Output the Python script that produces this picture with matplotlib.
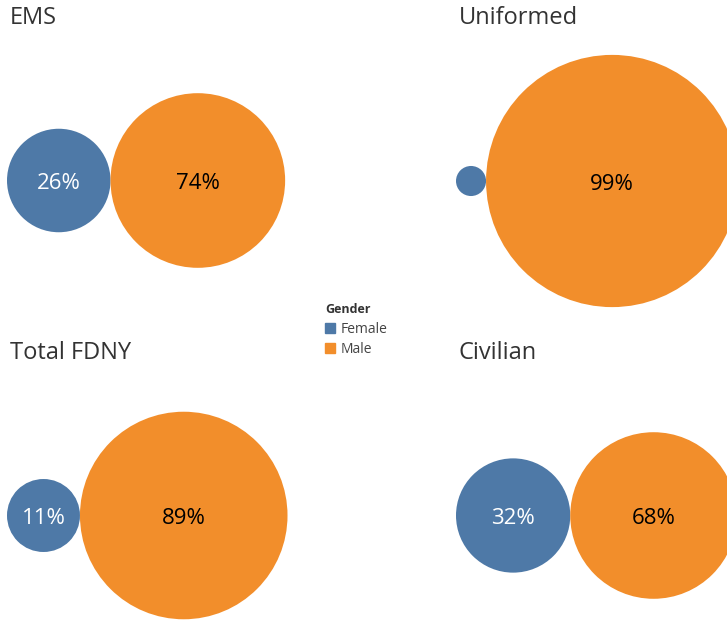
import numpy as np
import matplotlib
matplotlib.use('Agg')
import matplotlib.pyplot as plt
from matplotlib.patches import Circle, Patch

# share of each gender per group (percent)
groups = ['EMS', 'Uniformed', 'Total FDNY', 'Civilian']
female = [26, 1.4, 11, 32]
male = [74, 98.6, 89, 68]
show_female_label = [True, False, True, True]

BLUE = '#4E79A7'
ORANGE = '#F28E2B'
FONT = 'Open Sans'

# layout of the 2x2 grid, in pixels (left edge of bubbles, centre line, title pos)
panel_left = [7, 456, 7, 456]
panel_mid = [180.5, 181, 515.5, 515.5]
title_pos = [(10, 24), (459, 24), (10, 359), (459, 359)]
# bubble scale per panel (px per sqrt(percent))
scale = [10.15, 12.7, 11.0, 10.1]

fig = plt.figure(figsize=(7.27, 6.21), dpi=100)
ax = fig.add_axes([0, 0, 1, 1])
ax.set_xlim(0, 727)
ax.set_ylim(621, 0)
ax.set_aspect('equal')
ax.axis('off')

for i, g in enumerate(groups):
    rb = scale[i] * np.sqrt(female[i])
    ro = scale[i] * np.sqrt(male[i])
    cy = panel_mid[i]
    xb = panel_left[i] + rb
    xo = panel_left[i] + 2 * rb + ro
    ax.add_patch(Circle((xb, cy), rb, color=BLUE, lw=0))
    ax.add_patch(Circle((xo, cy), ro, color=ORANGE, lw=0))
    if show_female_label[i]:
        ax.text(xb, cy + 3, '%d%%' % round(female[i]), color='white', fontsize=16,
                family=FONT, ha='center', va='center')
    ax.text(xo, cy + 3, '%d%%' % round(male[i]), color='black', fontsize=16,
            family=FONT, ha='center', va='center')
    ax.text(title_pos[i][0], title_pos[i][1], g, color='#333333', fontsize=17,
            family=FONT, ha='left', va='baseline')

handles = [Patch(color=BLUE, label='Female'), Patch(color=ORANGE, label='Male')]
leg = ax.legend(handles=handles, title='Gender', loc='upper left',
                bbox_to_anchor=(325, 303), bbox_transform=ax.transData,
                frameon=False, borderpad=0, borderaxespad=0,
                handlelength=0.7, handleheight=0.7, handletextpad=0.45,
                labelspacing=0.4, alignment='left',
                prop={'family': FONT, 'size': 10},
                title_fontproperties={'family': FONT, 'size': 9, 'weight': 'bold'})
for t in leg.get_texts():
    t.set_color('#444444')
leg.get_title().set_color('#333333')

fig.savefig('out.png', dpi=100)
